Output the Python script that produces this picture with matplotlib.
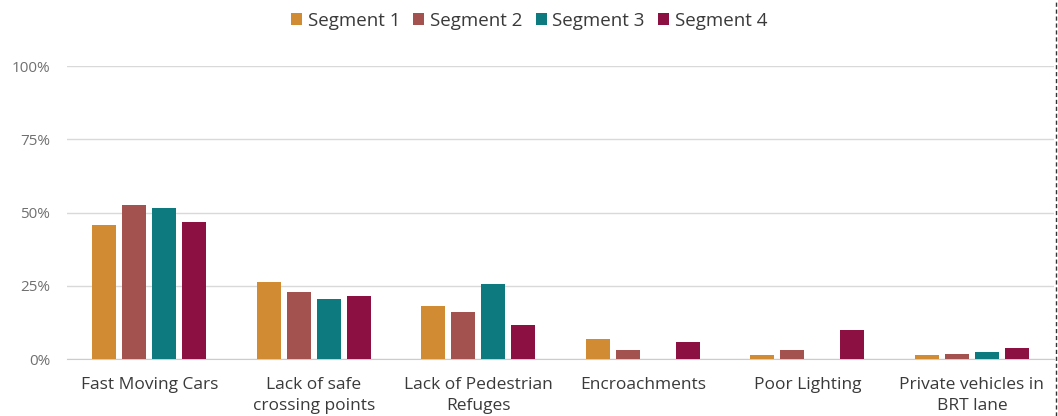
import numpy as np
import matplotlib
matplotlib.use("Agg")
import matplotlib.pyplot as plt
from matplotlib.lines import Line2D

categories = ["Fast Moving Cars", "Lack of safe\ncrossing points", "Lack of Pedestrian\nRefuges",
              "Encroachments", "Poor Lighting", "Private vehicles in\nBRT lane"]
series = ["Segment 1", "Segment 2", "Segment 3", "Segment 4"]
seg1 = [45.7, 26.4, 18.2, 6.8, 1.5, 1.5]
seg2 = [52.6, 22.8, 15.9, 3.2, 3.2, 1.8]
seg3 = [51.5, 20.6, 25.5, 0.0, 0.0, 2.3]
seg4 = [46.8, 21.5, 11.5, 5.9, 10.0, 3.9]
yticks = [0, 25, 50, 75, 100]
ytick_labels = ["0%", "25%", "50%", "75%", "100%"]

colors = ["#D18B33", "#A3524F", "#0C7A7F", "#8C1041"]

plt.rcParams['font.family'] = ['Open Sans', 'DejaVu Sans']

fig = plt.figure(figsize=(10.58, 4.16), dpi=100)
ax = fig.add_axes([0.0633, 0.137, 0.933, 0.704])

x = np.arange(len(categories))
slot = 0.182
width = 0.146
for i, (vals, name) in enumerate(zip([seg1, seg2, seg3, seg4], series)):
    ax.bar(x + (i - 1.5) * slot, vals, width, color=colors[i], label=name, zorder=3)

ax.set_xlim(-0.5, len(categories) - 0.5)
ax.set_ylim(0, 100)
ax.set_yticks(yticks)
ax.set_yticklabels(ytick_labels, color="#707070", fontsize=11)
ax.set_xticks(x)
ax.set_xticklabels(categories, color="#3a3a3a", fontsize=12.5, linespacing=1.45)
ax.tick_params(axis="both", length=0)
ax.tick_params(axis="y", pad=12)
ax.tick_params(axis="x", pad=13)
ax.grid(axis="y", color="#d9d9d9", linewidth=1, zorder=0)
for s in ["top", "right", "left"]:
    ax.spines[s].set_visible(False)
ax.spines["bottom"].set_color("#cccccc")

fig.legend(*ax.get_legend_handles_labels(), loc="center", bbox_to_anchor=(0.5, 0.95),
           ncol=4, frameon=False, handlelength=0.6, handleheight=0.6, handletextpad=0.3,
           columnspacing=0.7, fontsize=13.5, labelcolor="#3a3a3a")

fig.add_artist(Line2D([0.998, 0.998], [0, 1], transform=fig.transFigure,
                      color="#333333", linestyle=(0, (3, 2)), linewidth=1))

fig.savefig("out.png", dpi=100)
